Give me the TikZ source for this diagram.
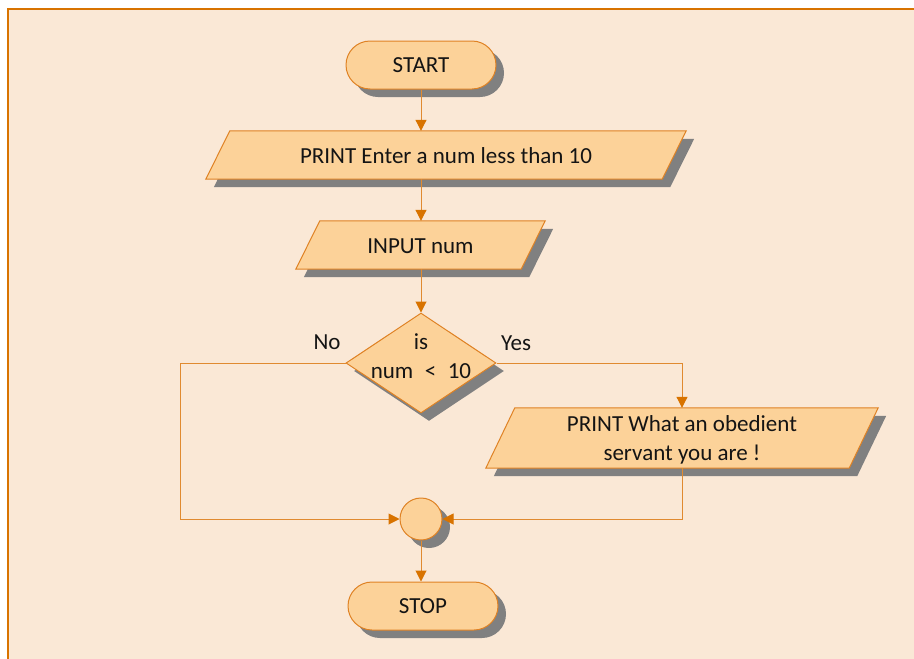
\documentclass[tikz,border=0pt]{standalone}
\usepackage{fontspec}
\setmainfont{Carlito}
\usetikzlibrary{arrows.meta,shapes.geometric,shadows}
\definecolor{bgc}{HTML}{FAE8D6}
\definecolor{fillc}{HTML}{FCD299}
\definecolor{edgec}{HTML}{DF8224}
\definecolor{linec}{HTML}{E08A30}
\definecolor{arrc}{HTML}{D87300}
\definecolor{shad}{HTML}{808080}
\definecolor{txt}{HTML}{141414}
\begin{document}
\begin{tikzpicture}[x=1pt,y=-1pt,
  every node/.style={font=\fontsize{23}{29}\selectfont, text=txt},
  myshadow/.style={drop shadow={shadow xshift=8pt, shadow yshift=-8pt, fill=shad, opacity=1}},
  termbox/.style={rectangle, rounded corners=24pt, minimum width=150pt, minimum height=48pt, inner sep=0pt, fill=fillc, draw=edgec, line width=1pt, myshadow},
  boxarea/.style={rectangle, draw=none, inner sep=0pt, align=center},
  pshape/.style={fill=fillc, draw=edgec, line width=1pt, myshadow},
  decbox/.style={diamond, minimum width=150pt, minimum height=100pt, inner sep=0pt, aspect=1.5, fill=fillc, draw=edgec, line width=1pt, myshadow},
  joinbox/.style={circle, minimum size=42pt, inner sep=0pt, fill=fillc, draw=edgec, line width=1pt, myshadow},
  conn/.style={draw=linec, line width=1pt, -{Triangle[length=11pt, width=11pt, color=arrc]}},
  plain/.style={draw=linec, line width=1pt}
]
\useasboundingbox (0,0) rectangle (914,659);
\fill[white] (0,0) rectangle (914,659);
\fill[bgc] (8,9) rectangle (914,659);
\draw[arrc, line width=1.5pt] (8,659) -- (8,9) -- (914,9);

% START
\node[termbox] (start) at (421,65) {START};

% PRINT 1
\node[boxarea, minimum width=480pt, minimum height=48pt] (p1) at (446,155) {};
\path[pshape] ([xshift=24pt]p1.north west) -- (p1.north east) -- ([xshift=-24pt]p1.south east) -- (p1.south west) -- cycle;
\node (p1t) at (446,156) {PRINT Enter a num less than 10};

% INPUT
\node[boxarea, minimum width=249pt, minimum height=48pt] (in) at (420.5,245) {};
\path[pshape] ([xshift=24pt]in.north west) -- (in.north east) -- ([xshift=-24pt]in.south east) -- (in.south west) -- cycle;
\node (int) at (420.5,246) {INPUT num};

% DECISION
\node[decbox] (dec) at (421,363) {};
\node[align=center] (dect) at (421,356.5) {is\\num\,\,\,<\,\,\,10};
\node (no) at (327,342) {No};
\node (yes) at (516,343) {Yes};

% PRINT 2
\node[boxarea, minimum width=392pt, minimum height=60pt] (p2) at (682,438) {};
\path[pshape] ([xshift=29pt]p2.north west) -- (p2.north east) -- ([xshift=-29pt]p2.south east) -- (p2.south west) -- cycle;
\node[align=center] (p2t) at (682,439.5) {PRINT What an obedient\\servant you are !};

% JOIN
\node[joinbox] (join) at (421,519) {};

% STOP
\node[termbox] (stop) at (423,606) {STOP};

\coordinate (nl) at (180,363);

% connectors
\draw[conn] (start.south) -- (start.south |- p1.north);
\draw[conn] (start.south |- p1.south) -- (start.south |- in.north);
\draw[conn] (in.south -| dec.north) -- (dec.north);
\draw[plain] (dec.west) -- (nl);
\draw[conn] (nl) |- (join.west);
\draw[conn] (dec.east) -| (p2.north);
\draw[conn] (p2.south) |- (join.east);
\draw[conn] (join.south) -- (join.south |- stop.north);
\end{tikzpicture}
\end{document}
